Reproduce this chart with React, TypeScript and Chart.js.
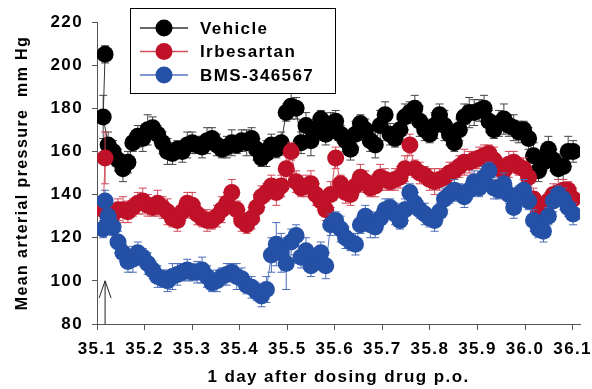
import { useEffect, useRef } from "react";
import { Chart, registerables } from "chart.js";

Chart.register(...registerables);

const FONT = '"Liberation Sans", Arial, Helvetica, sans-serif';
const LS = "1.4px";

// ---- data ----
const INIT_TIME = 35.117;
const GRID_START = 35.113;
const GRID_STEP = 0.0104;
const GRID_COUNT = 96;
const TIMES: number[] = [
  INIT_TIME,
  ...Array.from({ length: GRID_COUNT }, (_, i) => +(GRID_START + i * GRID_STEP).toFixed(4)),
];

const X_TICKS = [35.1, 35.2, 35.3, 35.4, 35.5, 35.6, 35.7, 35.8, 35.9, 36.0, 36.1];
const Y_MIN = 80;
const Y_MAX = 220;
const Y_STEP = 20;
const X_MIN = 35.1;
const X_MAX = 36.1155;

const SERIES_LABELS = ["Vehicle", "Irbesartan", "BMS-346567"];

const VEHICLE = [
  205,
  176, 163, 160, 156, 152, 155, 164, 167, 166, 170,
  171, 168, 164, 160, 159, 161, 160, 163, 164, 163,
  162, 165, 166, 163, 161, 162, 164, 163, 165, 164,
  166, 161, 157, 159, 163, 161, 164, 178, 181, 180,
  164, 172, 165, 170, 175, 168, 172, 174, 168, 165,
  161, 168, 173, 170, 165, 163, 172, 177, 168, 166,
  170, 176, 178, 180, 174, 170, 168, 172, 177, 172,
  168, 164, 170, 176, 178, 178, 179, 180, 174, 170,
  173, 175, 172, 171, 169, 170, 166, 158, 151, 155,
  161, 156, 152, 153, 160, 160,
];
const VEHICLE_ERR = [
  4,
  10, 6, 5, 5, 6, 5, 4, 5, 6, 7,
  5, 4, 5, 6, 5, 4, 5, 6, 5, 4,
  5, 6, 5, 5, 4, 5, 6, 4, 5, 6,
  5, 5, 4, 6, 5, 4, 5, 4, 6, 5,
  5, 6, 7, 5, 4, 5, 6, 5, 4, 5,
  5, 6, 4, 5, 5, 6, 7, 6, 5, 4,
  5, 6, 5, 6, 7, 5, 4, 6, 5, 7,
  5, 4, 5, 6, 7, 6, 5, 6, 5, 4,
  6, 7, 5, 6, 5, 4, 5, 6, 5, 4,
  6, 5, 5, 6, 7, 5,
];

const IRBESARTAN = [
  157,
  133, 132, 131, 133, 133, 132, 134, 136, 137, 135,
  134, 136, 134, 132, 129, 128, 132, 136, 135, 131,
  129, 128, 128, 130, 133, 136, 141, 133, 128, 126,
  129, 134, 139, 141, 144, 141, 144, 152, 160, 146,
  143, 144, 145, 140, 137, 133, 140, 157, 145, 141,
  140, 144, 148, 146, 143, 144, 148, 147, 146, 147,
  148, 152, 163, 152, 150, 149, 147, 146, 147, 148,
  150, 151, 153, 155, 155, 156, 157, 158, 159, 156,
  152, 151, 154, 155, 153, 152, 148, 138, 132, 134,
  137, 140, 141, 142, 142, 138,
];
const IRBESARTAN_ERR = [
  12,
  4, 5, 4, 5, 6, 5, 4, 5, 6, 5,
  4, 6, 5, 6, 4, 5, 4, 5, 6, 5,
  4, 5, 4, 5, 6, 5, 6, 4, 5, 4,
  5, 6, 5, 4, 5, 6, 5, 6, 4, 5,
  4, 5, 6, 5, 4, 5, 6, 5, 4, 5,
  5, 4, 6, 5, 4, 5, 6, 5, 4, 5,
  5, 6, 5, 4, 5, 4, 5, 6, 5, 4,
  5, 4, 5, 6, 5, 4, 5, 5, 4, 6,
  5, 4, 6, 5, 4, 5, 4, 5, 6, 5,
  4, 5, 6, 5, 4, 5,
];

const BMS = [
  137,
  124, 130, 125, 118, 113, 109, 110, 113, 111, 108,
  105, 102, 101, 100, 102, 103, 104, 105, 104, 104,
  105, 102, 99, 100, 102, 103, 104, 102, 101, 98,
  97, 95, 93, 96, 112, 117, 113, 108, 118, 121,
  111, 114, 107, 109, 113, 107, 126, 128, 124, 120,
  118, 117, 126, 130, 126, 125, 129, 133, 134, 131,
  128, 133, 141, 136, 133, 131, 129, 128, 132, 138,
  140, 142, 141, 139, 142, 146, 143, 148, 151, 143,
  142, 145, 140, 134, 140, 142, 137, 128, 124, 123,
  130, 137, 140, 138, 134, 131,
];
const BMS_ERR = [
  5,
  4, 5, 4, 5, 4, 5, 6, 5, 4, 5,
  4, 5, 4, 5, 6, 5, 4, 5, 4, 5,
  6, 5, 4, 5, 4, 5, 4, 6, 5, 4,
  5, 4, 5, 6, 8, 10, 9, 12, 6, 5,
  5, 6, 5, 4, 5, 6, 5, 4, 6, 5,
  4, 5, 4, 5, 6, 5, 4, 5, 4, 5,
  4, 5, 4, 5, 4, 5, 4, 5, 4, 5,
  4, 5, 4, 5, 4, 5, 4, 5, 4, 5,
  4, 5, 4, 5, 4, 5, 4, 5, 4, 5,
  4, 5, 4, 5, 4, 5,
];

// dosing arrow (data coords)
const ARROW_X = 35.117;
const ARROW_FROM = 80;
const ARROW_TO = 100;

const COLORS = {
  vehicle: { point: "#000000", line: "#333333", err: "#444444" },
  irb: { point: "#BF1228", line: "#D4505E", err: "#D04858" },
  bms: { point: "#2450A6", line: "#5577C0", err: "#4A6CB8" },
};

const spacingPlugin = {
  id: "letterSpacing",
  beforeLayout(chart: any) {
    chart.ctx.letterSpacing = LS;
  },
  beforeDraw(chart: any) {
    chart.ctx.letterSpacing = LS;
  },
};

const errorBarPlugin = {
  id: "errorBars",
  beforeDatasetDraw(chart: any, args: any) {
    const ds = chart.data.datasets[args.index];
    const errs: number[] = ds.errors;
    if (!errs) return;
    const y = chart.scales.y;
    const ctx = chart.ctx;
    const vals: number[] = ds.data.map((d: any) => d.y);
    ctx.save();
    ctx.strokeStyle = ds.errorColor;
    ctx.lineWidth = 1;
    args.meta.data.forEach((pt: any, i: number) => {
      const e = errs[i];
      if (e == null) return;
      const px = pt.x;
      const top = y.getPixelForValue(vals[i] + e);
      const bot = y.getPixelForValue(vals[i] - e);
      ctx.beginPath();
      ctx.moveTo(px, top);
      ctx.lineTo(px, bot);
      ctx.moveTo(px - 4, top);
      ctx.lineTo(px + 4, top);
      ctx.moveTo(px - 4, bot);
      ctx.lineTo(px + 4, bot);
      ctx.stroke();
    });
    ctx.restore();
  },
};

const arrowPlugin = {
  id: "doseArrow",
  afterDatasetsDraw(chart: any) {
    const { ctx, scales } = chart;
    const x = scales.x.getPixelForValue(ARROW_X);
    const y0 = scales.y.getPixelForValue(ARROW_FROM);
    const y1 = scales.y.getPixelForValue(ARROW_TO);
    const yh = scales.y.getPixelForValue(ARROW_TO - 8);
    ctx.save();
    ctx.strokeStyle = "#222";
    ctx.lineWidth = 1;
    ctx.beginPath();
    ctx.moveTo(x, y0);
    ctx.lineTo(x, y1);
    ctx.moveTo(x - 6, yh);
    ctx.lineTo(x, y1);
    ctx.lineTo(x + 6, yh);
    ctx.stroke();
    ctx.restore();
  },
};

const legendPlugin = {
  id: "boxLegend",
  afterDraw(chart: any) {
    const ctx = chart.ctx;
    ctx.save();
    ctx.letterSpacing = LS;
    ctx.fillStyle = "#fff";
    ctx.fillRect(130.5, 8.5, 205, 85);
    ctx.strokeStyle = "#000";
    ctx.lineWidth = 1;
    ctx.strokeRect(130.5, 8.5, 205, 85);
    const rows = [0, 1, 2];
    rows.forEach((dsIndex, row) => {
      const ds = chart.data.datasets[dsIndex];
      const cy = 28 + row * 23.5;
      ctx.strokeStyle = ds.borderColor;
      ctx.lineWidth = 1.5;
      ctx.beginPath();
      ctx.moveTo(140, cy);
      ctx.lineTo(188, cy);
      ctx.stroke();
      ctx.fillStyle = ds.pointBackgroundColor;
      ctx.beginPath();
      ctx.arc(164, cy, 8.5, 0, Math.PI * 2);
      ctx.fill();
      ctx.fillStyle = "#000";
      ctx.font = `bold 17px ${FONT}`;
      ctx.textBaseline = "middle";
      ctx.textAlign = "left";
      ctx.fillText(ds.label, 200, cy + 1);
    });
    ctx.restore();
  },
};

function series(values: number[]) {
  return TIMES.map((t, i) => ({ x: t, y: values[i] }));
}

export default function App() {
  const ref = useRef<HTMLCanvasElement>(null);

  useEffect(() => {
    document.body.style.margin = "0";
    const canvas = ref.current;
    if (!canvas) return;
    const mk = (label: string, values: number[], errs: number[], c: any, order: number) => ({
      label,
      data: series(values),
      errors: errs,
      errorColor: c.err,
      borderColor: c.line,
      borderWidth: 1,
      pointBackgroundColor: c.point,
      pointBorderColor: c.point,
      pointBorderWidth: 0,
      pointRadius: 8.5,
      pointHoverRadius: 8.5,
      showLine: true,
      fill: false,
      tension: 0,
      order,
    });
    const chart = new Chart(canvas, {
      type: "line",
      data: {
        datasets: [
          mk(SERIES_LABELS[0], VEHICLE, VEHICLE_ERR, COLORS.vehicle, 2),
          mk(SERIES_LABELS[1], IRBESARTAN, IRBESARTAN_ERR, COLORS.irb, 1),
          mk(SERIES_LABELS[2], BMS, BMS_ERR, COLORS.bms, 0),
        ] as any,
      },
      plugins: [spacingPlugin, errorBarPlugin, arrowPlugin, legendPlugin],
      options: {
        responsive: false,
        animation: false,
        events: [],
        layout: { padding: { top: 22, right: 12, bottom: 0, left: 0 } },
        plugins: {
          legend: { display: false },
          tooltip: { enabled: false },
        },
        scales: {
          x: {
            type: "linear",
            min: X_MIN,
            max: X_MAX,
            afterBuildTicks(scale: any) {
              scale.ticks = X_TICKS.map((v) => ({ value: v }));
            },
            afterFit(scale: any) {
              scale.height = 65;
              scale.paddingLeft = 0;
              scale.paddingRight = 0;
            },
            grid: {
              display: true,
              drawOnChartArea: false,
              drawTicks: true,
              tickLength: 6,
              color: "#555",
            },
            border: { display: true, color: "#555", width: 1 },
            ticks: {
              autoSkip: false,
              maxRotation: 0,
              minRotation: 0,
              padding: 9,
              color: "#000",
              font: { family: FONT, size: 17, weight: "bold" },
              callback: (v: any) => Number(v).toFixed(1),
            },
            title: {
              display: true,
              text: "1 day after dosing drug p.o.",
              color: "#000",
              font: { family: FONT, size: 17, weight: "bold" },
              padding: { top: 0, bottom: 1 },
            },
          },
          y: {
            type: "linear",
            min: Y_MIN,
            max: Y_MAX,
            afterFit(scale: any) {
              scale.width = 97;
              scale.paddingTop = 0;
              scale.paddingBottom = 0;
            },
            grid: {
              display: true,
              drawOnChartArea: false,
              drawTicks: true,
              tickLength: 5,
              color: "#555",
            },
            border: { display: true, color: "#555", width: 1 },
            ticks: {
              stepSize: Y_STEP,
              padding: 9,
              color: "#000",
              font: { family: FONT, size: 17, weight: "bold" },
            },
            title: {
              display: true,
              text: "Mean arterial pressure  mm Hg",
              color: "#000",
              font: { family: FONT, size: 16, weight: "bold" },
              padding: { top: 13, bottom: 0 },
            },
          },
        },
      } as any,
    });
    return () => chart.destroy();
  }, []);

  return (
    <div style={{ width: 592, height: 389, position: "relative" }}>
      <canvas ref={ref} width={592} height={389} style={{ display: "block" }} />
    </div>
  );
}
